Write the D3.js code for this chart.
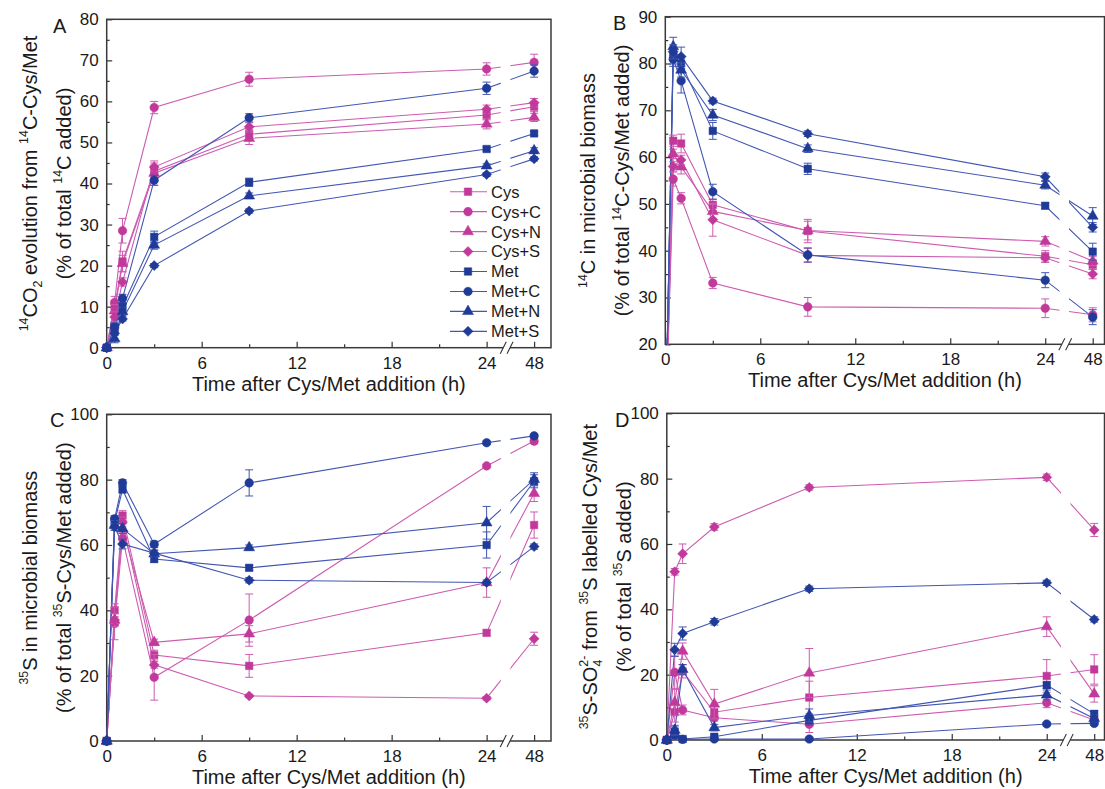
<!DOCTYPE html>
<html><head><meta charset="utf-8">
<script src="https://cdn.jsdelivr.net/npm/d3@7"></script>
<style>
body{margin:0;background:#fff}
svg{display:block}
text{font-family:"Liberation Sans",Arial,Helvetica,sans-serif;fill:#1a1a1a}
</style>
</head><body>
<svg id="chart" width="1105" height="789"></svg>
<script>
// ---------------- data ----------------
const times = [0, 0.5, 1, 3, 9, 24, 48];
const seriesNames = ["Cys", "Cys+C", "Cys+N", "Cys+S", "Met", "Met+C", "Met+N", "Met+S"];
const seriesAminoAcid = ["Cys", "Cys", "Cys", "Cys", "Met", "Met", "Met", "Met"];
const seriesShapes = ["square", "circle", "triangle", "diamond", "square", "circle", "triangle", "diamond"];
const xTickLabels = ["0", "6", "12", "18", "24", "48"];
const xTickTimes = [0, 6, 12, 18, 24, 48];
const xMinorTimes = [3, 9, 15, 21];

// Panel A: 14CO2 evolution (% of total 14C added)
const A_values = [
  [0, 10, 21, 43, 52, 56.7, 58.7],
  [0, 11, 28.5, 58.5, 65.4, 67.9, 69.5],
  [0, 9, 20.5, 42.5, 51, 54.5, 56.1],
  [0, 7.5, 16, 44, 53.8, 58.1, 59.7],
  [0, 5, 10, 27, 40.3, 48.4, 52.2],
  [0, 5, 12, 40.8, 56, 63.2, 67.4],
  [0, 2.2, 8.8, 25, 37, 44.3, 48],
  [0, 3.5, 7, 20, 33.3, 42.2, 46]
];
const A_errors = [
  [0, 1.5, 2.5, 1.5, 1.2, 1.2, 1.2],
  [0, 1.5, 3, 1.5, 1.7, 1.5, 2],
  [0, 1.5, 2, 3, 1.5, 1.2, 1],
  [0, 1.2, 1, 1, 1, 1, 1],
  [0, 1, 1, 1.4, 1, 0.5, 0.5],
  [0, 1, 1, 1.2, 1, 1.5, 1.5],
  [0, 1, 1, 1, 0.7, 0.5, 0.7],
  [0, 0.5, 0.5, 0.5, 0.5, 0.5, 0.5]
];

// Panel B: 14C in microbial biomass
const B_values = [
  [0, 63.5, 62.9, 49.8, 44.2, 38.8, 37.0],
  [0, 55.3, 51.2, 33.1, 28.0, 27.7, 26.3],
  [0, 60.7, 57.9, 48.4, 44.3, 42.0, 37.8],
  [0, 58.0, 59.4, 46.6, 39.0, 38.5, 35.0],
  [0, 81.4, 80.0, 65.6, 57.5, 49.6, 39.8],
  [0, 80.9, 76.3, 52.6, 39.1, 33.7, 25.8],
  [0, 83.6, 78.6, 69.0, 61.8, 54.0, 47.4],
  [0, 82.5, 81.5, 72.0, 65.0, 55.8, 45.0]
];
const B_errors = [
  [0, 1.2, 2, 1.2, 2.5, 1.2, 1],
  [0, 1.5, 1.2, 1.2, 2, 2, 1.5],
  [0, 1, 1.5, 1.5, 2, 1, 1],
  [0, 1, 1, 3.5, 1.5, 1, 1],
  [0, 1.5, 1.2, 1.8, 1.2, 0.6, 1.8],
  [0, 1.5, 2.6, 1.6, 1.5, 1.6, 1.6],
  [0, 2, 1.5, 1.2, 0.8, 0.8, 1.8],
  [0, 1.5, 2, 0.6, 0.6, 0.8, 1]
];

// Panel C: 35S in microbial biomass
const C_values = [
  [0, 40, 69, 26.3, 23, 33.1, 66.1],
  [0, 36, 62, 19.5, 37.0, 84.2, 91.8],
  [0, 37, 65, 30.2, 32.8, 48.5, 75.8],
  [0, 37, 67, 23.3, 13.8, 13.1, 31.3],
  [0, 67, 77, 55.7, 53, 60, 79.5],
  [0, 68, 79, 60.2, 79, 91.3, 93.4],
  [0, 66, 65, 57.3, 59.2, 66.8, 80.1],
  [0, 65.5, 60.3, 57.5, 49.2, 48.5, 59.5]
];
const C_errors = [
  [0, 2, 1.5, 1.5, 3.5, 0.8, 4],
  [0, 5, 2, 7, 8, 0.5, 0.8],
  [0, 2, 1.5, 1, 2.5, 4.5, 2.5],
  [0, 1, 1.5, 1, 0.5, 0.5, 2],
  [0, 1.5, 1, 1, 0.8, 4, 2],
  [0, 1, 1, 1, 4, 0.5, 0.5],
  [0, 1.5, 1.5, 1, 0.8, 5, 2],
  [0, 1, 1.5, 1, 0.8, 0.8, 0.8]
];

// Panel D: 35S-SO4 2- from 35S labelled Cys/Met
const D_values = [
  [0, 8.5, 21, 8.5, 13, 19.6, 21.6],
  [0, 20.7, 9.2, 6.8, 4.8, 11.4, 6.1],
  [0, 11.5, 27.2, 11, 20.5, 34.7, 14.1],
  [0, 51.5, 57.0, 65.2, 77.3, 80.4, 64.3],
  [0, 2.5, 0.3, 1.0, 6.0, 16.8, 8.0],
  [0, 1.5, 0.2, 0.3, 0.3, 4.9, 5.1],
  [0, 3, 21.6, 3.8, 7.5, 13.8, 6.6],
  [0, 27.6, 32.6, 36.2, 46.3, 48.1, 36.9]
];
const D_errors = [
  [0, 3, 2, 2, 5, 5, 4.5],
  [0, 5, 1.5, 1, 2.5, 1.5, 1],
  [0, 4, 2.5, 4.5, 7.5, 3, 2.5],
  [0, 1, 3, 1, 0.8, 1, 2],
  [0, 1.5, 0.3, 0.5, 1.5, 1, 1],
  [0, 1, 0.3, 0.3, 0.5, 0.5, 0.5],
  [0, 1.5, 1.5, 1, 2, 1.5, 1],
  [0, 2, 2, 1, 0.8, 0.8, 0.8]
];

// ---------------- style / layout ----------------
const COLORS = {Cys: "#c1399b", Met: "#1f3a97"};
const LINE_COLORS = {Cys: "#cd5cb0", Met: "#4256b2"};
const FONT = '"Liberation Sans",Arial,Helvetica,sans-serif';
const PX_PER_H = 15.83;
const BREAK_GAP = [24.9, 25.5];
const BREAK_MARKS = [25.05, 25.48];
// position on the axis: 0..24 linear, 48 mapped to 27 (axis break)
const pos = t => t <= 24 ? t : 24 + 3 * (t - 24) / 24;

const svg = d3.select("#chart");

const panels = [
  {id: "A", left: 106.7, top: 19.3, bottom: 347.7, boxRight: 551, y: [0, 80], major: 10, minor: 5,
   values: A_values, errors: A_errors, legend: true, letter: [53, 33],
   yTitle: [
     [["14", "sup"], ["CO"], ["2", "sub"], [" evolution from "], ["14", "sup"], ["C-Cys/Met"]],
     [["(% of total "], ["14", "sup"], ["C added)"]]
   ]},
  {id: "B", left: 665.3, top: 16.7, bottom: 344.3, boxRight: 1104.5, y: [20, 90], major: 10, minor: 5,
   values: B_values, errors: B_errors, legend: false, letter: [613, 30],
   yTitle: [
     [["14", "sup"], ["C in microbial biomass"]],
     [["(% of total "], ["14", "sup"], ["C-Cys/Met added)"]]
   ]},
  {id: "C", left: 106.7, top: 414.3, bottom: 741, boxRight: 551, y: [0, 100], major: 20, minor: 10,
   values: C_values, errors: C_errors, legend: false, letter: [50, 427],
   yTitle: [
     [["35", "sup"], ["S in microbial biomass"]],
     [["(% of total "], ["35", "sup"], ["S-Cys/Met added)"]]
   ]},
  {id: "D", left: 666.8, top: 413.3, bottom: 740, boxRight: 1104.5, y: [0, 100], major: 20, minor: 10,
   values: D_values, errors: D_errors, legend: false, letter: [615, 427],
   yTitle: [
     [["35", "sup"], ["S-SO"], ["4", "sub"], ["2-", "sup", -7], [" from "], ["35", "sup"], ["S labelled Cys/Met"]],
     [["(% of total "], ["35", "sup"], ["S  added)"]]
   ]}
];

function symbolPath(shape) {
  if (shape === "square") return d3.symbol(d3.symbolSquare, 56)();
  if (shape === "circle") return d3.symbol(d3.symbolCircle, 58)();
  if (shape === "triangle") return d3.symbol(d3.symbolTriangle, 52)();
  return d3.symbol(d3.symbolSquare, 50)(); // diamond = rotated square
}
function symbolTransform(shape, x, y) {
  return shape === "diamond" ? `translate(${x},${y}) rotate(45)` : `translate(${x},${y})`;
}

function addRich(textSel, parts, fs) {
  let cur = 0;
  parts.forEach(([t, mode, dx]) => {
    const target = mode === "sup" ? -0.42 * fs : mode === "sub" ? 0.26 * fs : 0;
    const ts = textSel.append("tspan").text(t).attr("dy", target - cur);
    if (mode) ts.attr("font-size", fs * 0.62);
    if (dx) ts.attr("dx", dx);
    cur = target;
  });
}

panels.forEach((p, pi) => {
  const xRight = p.left + 28 * PX_PER_H;
  const x = d3.scaleLinear().domain([0, 28]).range([p.left, xRight]);
  const y = d3.scaleLinear().domain(p.y).range([p.bottom, p.top]);
  const g = svg.append("g");
  const boxW = p.boxRight - p.left;

  // clip for series lines: plot area minus break gap
  const clipId = "clip" + p.id;
  const cp = svg.append("defs").append("clipPath").attr("id", clipId);
  cp.append("rect").attr("x", p.left).attr("y", p.top)
    .attr("width", x(BREAK_GAP[0]) - p.left).attr("height", p.bottom - p.top);
  cp.append("rect").attr("x", x(BREAK_GAP[1])).attr("y", p.top)
    .attr("width", xRight - x(BREAK_GAP[1])).attr("height", p.bottom - p.top);

  // X axis
  const xAxis = d3.axisBottom(x)
    .tickValues(xTickTimes.map(pos))
    .tickFormat((d, i) => xTickLabels[i])
    .tickSizeInner(-6).tickSizeOuter(0).tickPadding(9);
  const gx = g.append("g").attr("transform", `translate(0,${p.bottom})`).call(xAxis);
  gx.select(".domain").remove();
  gx.selectAll("line").attr("stroke", "#333").attr("stroke-width", 1.2);
  gx.selectAll("text").attr("font-size", 17).attr("font-family", FONT).attr("fill", "#1a1a1a");
  const gxm = g.append("g").attr("transform", `translate(0,${p.bottom})`)
    .call(d3.axisBottom(x).tickValues(xMinorTimes.map(pos)).tickFormat("").tickSizeInner(-3.5).tickSizeOuter(0));
  gxm.select(".domain").remove();
  gxm.selectAll("line").attr("stroke", "#333").attr("stroke-width", 1.2);

  // Y axis
  const majors = d3.range(p.y[0], p.y[1] + 0.001, p.major);
  const minors = d3.range(p.y[0], p.y[1] + 0.001, p.minor).filter(v => !majors.includes(v));
  const gy = g.append("g").attr("transform", `translate(${p.left},0)`)
    .call(d3.axisLeft(y).tickValues(majors).tickFormat(d3.format("d")).tickSizeInner(-5.5).tickSizeOuter(0).tickPadding(8));
  gy.select(".domain").remove();
  gy.selectAll("line").attr("stroke", "#333").attr("stroke-width", 1.2);
  gy.selectAll("text").attr("font-size", 17).attr("font-family", FONT).attr("fill", "#1a1a1a");
  const gym = g.append("g").attr("transform", `translate(${p.left},0)`)
    .call(d3.axisLeft(y).tickValues(minors).tickFormat("").tickSizeInner(-3).tickSizeOuter(0));
  gym.select(".domain").remove();
  gym.selectAll("line").attr("stroke", "#333").attr("stroke-width", 1.2);

  // frame
  g.append("rect").attr("x", p.left).attr("y", p.top).attr("width", boxW).attr("height", p.bottom - p.top)
    .attr("fill", "none").attr("stroke", "#3a3a3a").attr("stroke-width", 1.5);

  // axis break marks
  const bx0 = x(BREAK_MARKS[0]), bx1 = x(BREAK_MARKS[1]);
  g.append("rect").attr("x", bx0).attr("y", p.bottom - 1.5).attr("width", bx1 - bx0).attr("height", 3).attr("fill", "#fff");
  BREAK_MARKS.forEach(b => {
    const bx = x(b);
    g.append("line").attr("x1", bx - 3).attr("y1", p.bottom + 6).attr("x2", bx + 3).attr("y2", p.bottom - 6)
      .attr("stroke", "#333").attr("stroke-width", 1.1);
  });

  // axis titles
  g.append("text").attr("x", (p.left + p.boxRight) / 2).attr("y", p.bottom + 43)
    .attr("text-anchor", "middle").attr("font-size", 20).attr("font-family", FONT)
    .text("Time after Cys/Met addition (h)");
  const cy = (p.top + p.bottom) / 2;
  [p.left - 70, p.left - 36].forEach((bx, li) => {
    const t = g.append("text").attr("transform", `translate(${bx},${cy}) rotate(-90)`)
      .attr("text-anchor", "middle").attr("font-size", 20).attr("font-family", FONT);
    addRich(t, p.yTitle[li], 20);
  });

  // panel letter
  g.append("text").attr("x", p.letter[0]).attr("y", p.letter[1]).attr("font-size", 20)
    .attr("font-family", FONT).text(p.id);

  // series
  const line = d3.line().x(d => x(pos(d[0]))).y(d => y(d[1]));
  seriesNames.forEach((name, si) => {
    const grp = seriesAminoAcid[si];
    const vals = p.values[si], errs = p.errors[si];
    const pts = times.map((t, i) => [t, vals[i], errs[i]]);
    g.append("path").datum(pts).attr("d", line).attr("fill", "none")
      .attr("stroke", LINE_COLORS[grp]).attr("stroke-width", 1.1)
      .attr("clip-path", `url(#${clipId})`);
  });
  seriesNames.forEach((name, si) => {
    const grp = seriesAminoAcid[si];
    const vals = p.values[si], errs = p.errors[si];
    const col = COLORS[grp];
    times.forEach((t, i) => {
      const v = vals[i], e = errs[i];
      if (v < p.y[0] || v > p.y[1]) return;
      const px = x(pos(t));
      if (e > 0) {
        const y1 = y(v - e), y2 = y(v + e);
        g.append("line").attr("x1", px).attr("x2", px).attr("y1", y1).attr("y2", y2)
          .attr("stroke", LINE_COLORS[grp]).attr("stroke-width", 1);
        [y1, y2].forEach(yy => g.append("line").attr("x1", px - 4).attr("x2", px + 4).attr("y1", yy).attr("y2", yy)
          .attr("stroke", LINE_COLORS[grp]).attr("stroke-width", 1));
      }
      g.append("path").attr("d", symbolPath(seriesShapes[si]))
        .attr("transform", symbolTransform(seriesShapes[si], px, y(v)))
        .attr("fill", col).attr("stroke", col).attr("stroke-width", 0.5);
    });
  });

  // legend
  if (p.legend) {
    const lg = g.append("g");
    seriesNames.forEach((name, si) => {
      const grp = seriesAminoAcid[si];
      const ly = 191.7 + si * 19.95;
      lg.append("line").attr("x1", 450).attr("x2", 487).attr("y1", ly).attr("y2", ly)
        .attr("stroke", LINE_COLORS[grp]).attr("stroke-width", 1.1);
      lg.append("path").attr("d", symbolPath(seriesShapes[si]))
        .attr("transform", symbolTransform(seriesShapes[si], 468, ly))
        .attr("fill", COLORS[grp]).attr("stroke", COLORS[grp]).attr("stroke-width", 0.5);
      lg.append("text").attr("x", 491).attr("y", ly).attr("dy", "0.36em")
        .attr("font-size", 16.5).attr("font-family", FONT).text(name);
    });
  }
});
</script>
</body></html>
